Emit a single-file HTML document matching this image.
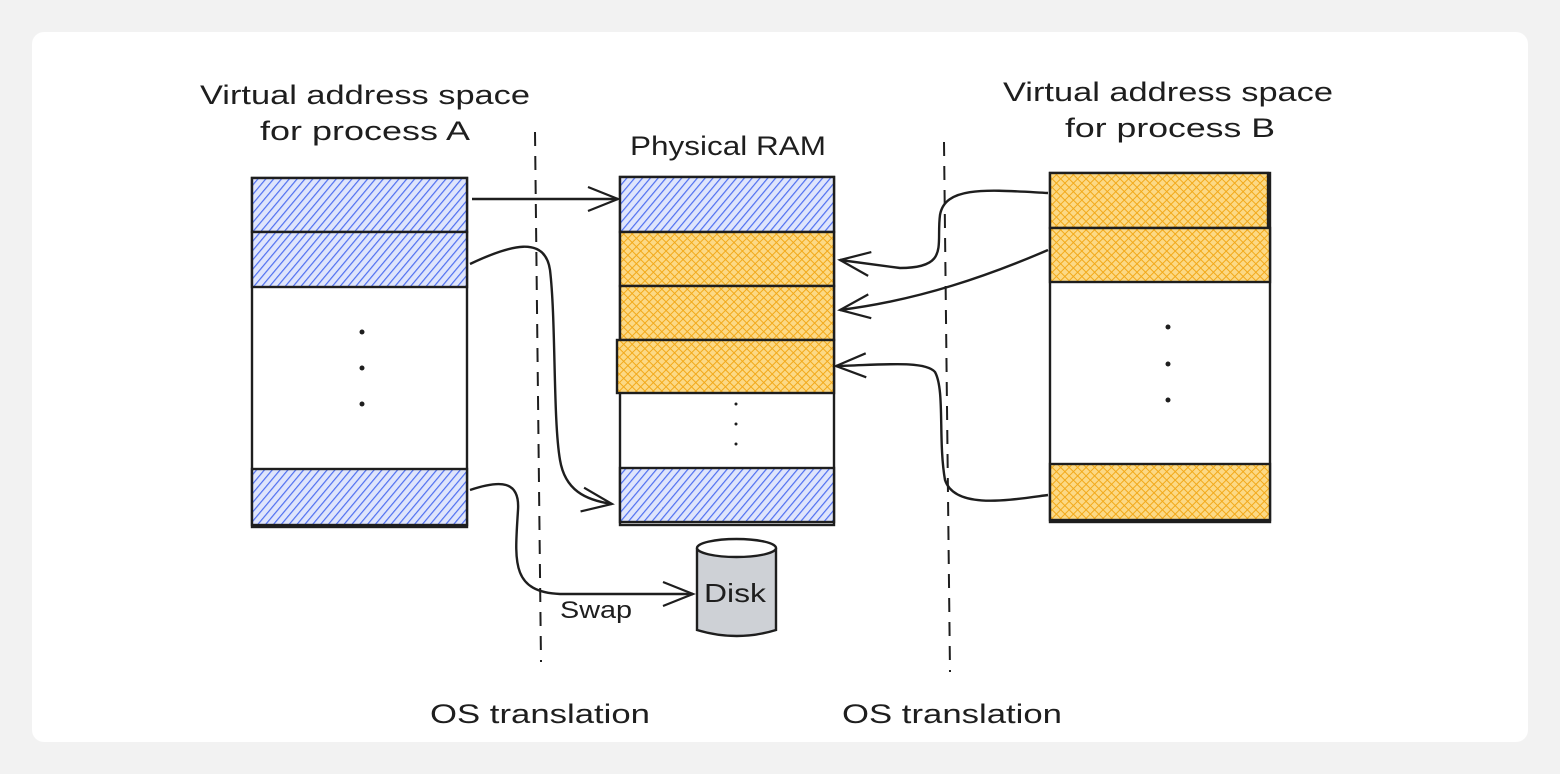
<!DOCTYPE html>
<html><head><meta charset="utf-8"><style>
html,body{margin:0;padding:0;background:#f2f2f2;}
svg{display:block}
text{font-family:"Liberation Sans",sans-serif;fill:#1e1e1e;}
</style></head><body>
<svg width="1560" height="774" viewBox="0 0 1560 774" xmlns="http://www.w3.org/2000/svg">
<defs>
<pattern id="blue" width="6" height="6" patternUnits="userSpaceOnUse" patternTransform="rotate(40)">
<rect width="6" height="6" fill="#dfe5fc"/>
<line x1="0" y1="0" x2="0" y2="6" stroke="#4f6ff0" stroke-width="2.4"/>
</pattern>
<pattern id="yel" width="6" height="6" patternUnits="userSpaceOnUse" patternTransform="rotate(45)">
<rect width="6" height="6" fill="#fcd985"/>
<line x1="0" y1="0" x2="0" y2="6" stroke="#f2a91a" stroke-width="2"/>
<line x1="0" y1="0" x2="6" y2="0" stroke="#f2a91a" stroke-width="2"/>
</pattern>
<marker id="ar" markerWidth="40" markerHeight="40" refX="34" refY="20" orient="auto" markerUnits="userSpaceOnUse">
<path d="M4,8 L34,20 L4,32" fill="none" stroke="#1e1e1e" stroke-width="2.2"/>
</marker>
</defs>
<rect x="32" y="32" width="1496" height="710" rx="12" fill="#fff"/>

<g stroke="#1e1e1e" stroke-width="2.4" fill="none">
<rect x="252" y="178" width="215" height="349" fill="#fff"/>
<rect x="252" y="178" width="215" height="54" fill="url(#blue)"/>
<rect x="252" y="232" width="215" height="55" fill="url(#blue)"/>
<rect x="252" y="469" width="215" height="56" fill="url(#blue)"/>
<rect x="620" y="177" width="214" height="348" fill="#fff"/>
<rect x="620" y="177" width="214" height="55" fill="url(#blue)"/>
<rect x="620" y="232" width="214" height="54" fill="url(#yel)"/>
<rect x="620" y="286" width="214" height="54" fill="url(#yel)"/>
<rect x="617" y="340" width="217" height="53" fill="url(#yel)"/>
<rect x="620" y="468" width="214" height="54" fill="url(#blue)"/>
<rect x="1050" y="173" width="220" height="349" fill="#fff"/>
<rect x="1050" y="173" width="218" height="55" fill="url(#yel)"/>
<rect x="1050" y="228" width="220" height="54" fill="url(#yel)"/>
<rect x="1050" y="464" width="220" height="56" fill="url(#yel)"/>

<path d="M535,132 L541,662" stroke-dasharray="14,10" stroke-width="2"/>
<path d="M944,142 L950,672" stroke-dasharray="14,10" stroke-width="2"/>

<path d="M697,548 L697,630 Q737,642 776,630 L776,548" fill="#ced1d6"/>
<ellipse cx="736.5" cy="548" rx="39.5" ry="9" fill="#fff"/>

<path d="M472,199 L618,199" marker-end="url(#ar)"/>
<path d="M470,264 C510,245 545,235 550,270 C556,320 553,420 560,460 C565,490 585,500 612,504" marker-end="url(#ar)"/>
<path d="M470,490 C500,480 520,480 518,510 C515,560 510,592 560,594 L693,594" marker-end="url(#ar)"/>
<path d="M1048,193 C990,190 945,185 940,215 C936,245 950,268 900,268 L840,260" marker-end="url(#ar)"/>
<path d="M1048,250 C990,275 920,300 840,310" marker-end="url(#ar)"/>
<path d="M1048,495 C1010,500 955,510 945,480 C938,440 945,390 935,372 C925,360 880,365 836,366" marker-end="url(#ar)"/>
</g>

<g fill="#1e1e1e">
<circle cx="362" cy="332" r="2.5"/><circle cx="362" cy="368" r="2.5"/><circle cx="362" cy="404" r="2.5"/>
<circle cx="736" cy="404" r="1.5"/><circle cx="736" cy="424" r="1.5"/><circle cx="736" cy="444" r="1.5"/>
<circle cx="1168" cy="327" r="2.5"/><circle cx="1168" cy="364" r="2.5"/><circle cx="1168" cy="400" r="2.5"/>
</g>

<g font-size="27">
<text x="200" y="104" textLength="330" lengthAdjust="spacingAndGlyphs">Virtual address space</text>
<text x="260" y="140" textLength="210" lengthAdjust="spacingAndGlyphs">for process A</text>
<text x="630" y="155" textLength="196" lengthAdjust="spacingAndGlyphs">Physical RAM</text>
<text x="1003" y="101" textLength="330" lengthAdjust="spacingAndGlyphs">Virtual address space</text>
<text x="1065" y="137" textLength="210" lengthAdjust="spacingAndGlyphs">for process B</text>
<text x="430" y="723" textLength="220" lengthAdjust="spacingAndGlyphs">OS translation</text>
<text x="842" y="723" textLength="220" lengthAdjust="spacingAndGlyphs">OS translation</text>
<text x="560" y="618" font-size="24" textLength="72" lengthAdjust="spacingAndGlyphs">Swap</text>
<text x="704" y="602" font-size="26" textLength="62" lengthAdjust="spacingAndGlyphs">Disk</text>
</g>
</svg>
</body></html>
